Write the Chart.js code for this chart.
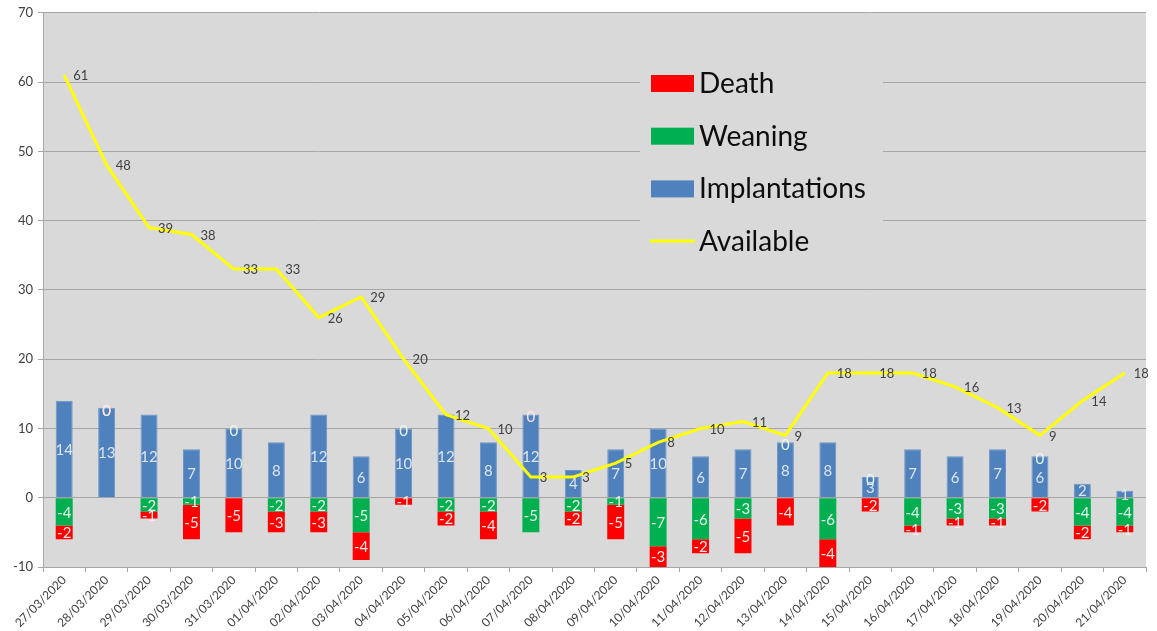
<!DOCTYPE html>
<html>
<head>
<meta charset="utf-8">
<script src="https://cdn.jsdelivr.net/npm/chart.js@4/dist/chart.umd.min.js"></script>
<style>
  html, body { margin: 0; padding: 0; background: #ffffff; }
  #wrap { width: 1157px; height: 631px; position: relative; }
</style>
</head>
<body>
<div id="wrap"><canvas id="c"></canvas></div>
<script>
// Daily colony movements and animals available
const dates = [
  '27/03/2020', '28/03/2020', '29/03/2020', '30/03/2020', '31/03/2020',
  '01/04/2020', '02/04/2020', '03/04/2020', '04/04/2020', '05/04/2020',
  '06/04/2020', '07/04/2020', '08/04/2020', '09/04/2020', '10/04/2020',
  '11/04/2020', '12/04/2020', '13/04/2020', '14/04/2020', '15/04/2020',
  '16/04/2020', '17/04/2020', '18/04/2020', '19/04/2020', '20/04/2020',
  '21/04/2020'
];
const implantations = [14, 13, 12, 7, 10, 8, 12, 6, 10, 12, 8, 12, 4, 7, 10, 6, 7, 8, 8, 3, 7, 6, 7, 6, 2, 1];
const weaning = [-4, 0, -2, -1, 0, -2, -2, -5, 0, -2, -2, -5, -2, -1, -7, -6, -3, 0, -6, 0, -4, -3, -3, 0, -4, -4];
const death = [-2, 0, -1, -5, -5, -3, -3, -4, -1, -2, -4, 0, -2, -5, -3, -2, -5, -4, -4, -2, -1, -1, -1, -2, -2, -1];
const available = [61, 48, 39, 38, 33, 33, 26, 29, 20, 12, 10, 3, 3, 5, 8, 10, 11, 9, 18, 18, 18, 16, 13, 9, 14, 18];
const yTicks = [-10, 0, 10, 20, 30, 40, 50, 60, 70];

const FONT = 'Lato, "Open Sans", sans-serif';
const PLOT_BG = '#d9d9d9';
const GRID = '#a6a6a6';

// Grey plot area
const plotBackground = {
  id: 'plotBackground',
  beforeDraw(chart) {
    const { ctx, chartArea: a } = chart;
    ctx.save();
    ctx.fillStyle = PLOT_BG;
    ctx.fillRect(a.left, a.top, a.right - a.left, a.bottom - a.top);
    ctx.restore();
  }
};

// Value labels on bar segments and beside line points
const valueLabels = {
  id: 'valueLabels',
  afterDatasetsDraw(chart) {
    const { ctx } = chart;
    const yScale = chart.scales.y;
    ctx.save();
    ctx.textBaseline = 'middle';
    chart.data.datasets.forEach((ds, di) => {
      const meta = chart.getDatasetMeta(di);
      if (meta.hidden) return;
      meta.data.forEach((el, i) => {
        const v = ds.data[i];
        if (ds.type === 'line') {
          ctx.font = '13px ' + FONT;
          ctx.fillStyle = '#404040';
          ctx.textAlign = 'left';
          ctx.fillText(String(v), el.x + 9, el.y + 1);
          return;
        }
        let cy;
        if (v === 0) {
          // a zero segment sits on top of the positive part of the stack
          let top = 0;
          for (let k = 0; k < di; k++) {
            const o = chart.data.datasets[k];
            if (o.type !== 'line' && o.data[i] > 0) top += o.data[i];
          }
          cy = yScale.getPixelForValue(top) + 3;
        } else {
          cy = (el.y + el.base) / 2 + 1;
        }
        ctx.font = '15px ' + FONT;
        ctx.fillStyle = ds.labelColor;
        ctx.textAlign = 'center';
        ctx.fillText(String(v), el.x, cy);
      });
    });
    ctx.restore();
  }
};

// Legend box drawn inside the plot area
const insideLegend = {
  id: 'insideLegend',
  afterDraw(chart) {
    const { ctx } = chart;
    const order = ['Death', 'Weaning', 'Implantations', 'Available'];
    const x0 = 640, y0 = 60, w = 243, h = 206;
    ctx.save();
    ctx.fillStyle = PLOT_BG;
    ctx.fillRect(x0, y0, w, h);
    ctx.font = '28px ' + FONT;
    ctx.textBaseline = 'middle';
    ctx.textAlign = 'left';
    order.forEach((name, idx) => {
      const ds = chart.data.datasets.find(d => d.label === name);
      const cy = 83 + idx * 52.7;
      if (ds.type === 'line') {
        ctx.strokeStyle = ds.borderColor;
        ctx.lineWidth = 3;
        ctx.beginPath();
        ctx.moveTo(650, cy);
        ctx.lineTo(695, cy);
        ctx.stroke();
      } else {
        ctx.fillStyle = ds.backgroundColor;
        ctx.fillRect(651, cy - 8, 43, 17);
      }
      ctx.fillStyle = '#0d0d0d';
      ctx.fillText(name, 699, cy + 1);
    });
    ctx.restore();
  }
};

new Chart(document.getElementById('c'), {
  data: {
    labels: dates,
    datasets: [
      {
        type: 'line', label: 'Available', data: available,
        borderColor: '#ffff00', backgroundColor: '#ffff00',
        borderWidth: 3, pointRadius: 0, tension: 0, order: 0
      },
      {
        type: 'bar', label: 'Implantations', data: implantations,
        backgroundColor: '#4f81bd', borderColor: '#6d95c9', borderWidth: 1,
        stack: 'moves', order: 1, labelColor: '#dde5f0'
      },
      {
        type: 'bar', label: 'Weaning', data: weaning,
        backgroundColor: '#00b050', borderColor: '#00b050', borderWidth: 0,
        stack: 'moves', order: 1, labelColor: '#e8f6ec'
      },
      {
        type: 'bar', label: 'Death', data: death,
        backgroundColor: '#ff0000', borderColor: '#ff0000', borderWidth: 0,
        stack: 'moves', order: 1, labelColor: '#ffe6e6'
      }
    ]
  },
  options: {
    responsive: true,
    maintainAspectRatio: false,
    animation: false,
    layout: { padding: { top: 11, right: 11, left: 0, bottom: 0 } },
    datasets: { bar: { barPercentage: 0.4, categoryPercentage: 1 } },
    plugins: { legend: { display: false }, tooltip: { enabled: false } },
    scales: {
      x: {
        stacked: true,
        offset: true,
        grid: { drawOnChartArea: false, offset: true, tickLength: 5, color: GRID },
        border: { color: GRID },
        ticks: {
          minRotation: 45, maxRotation: 45, autoSkip: false,
          color: '#404040', font: { family: FONT, size: 12 }, padding: 1
        },
        afterFit(s) { s.height = 64; }
      },
      y: {
        stacked: true,
        min: -10, max: 70,
        afterBuildTicks(s) { s.ticks = yTicks.map(v => ({ value: v })); },
        grid: { color: GRID, tickLength: 5 },
        border: { color: GRID },
        ticks: { color: '#404040', font: { family: FONT, size: 13 }, padding: 5 },
        afterFit(s) { s.width = 43; }
      }
    }
  },
  plugins: [plotBackground, valueLabels, insideLegend]
});
</script>
</body>
</html>
